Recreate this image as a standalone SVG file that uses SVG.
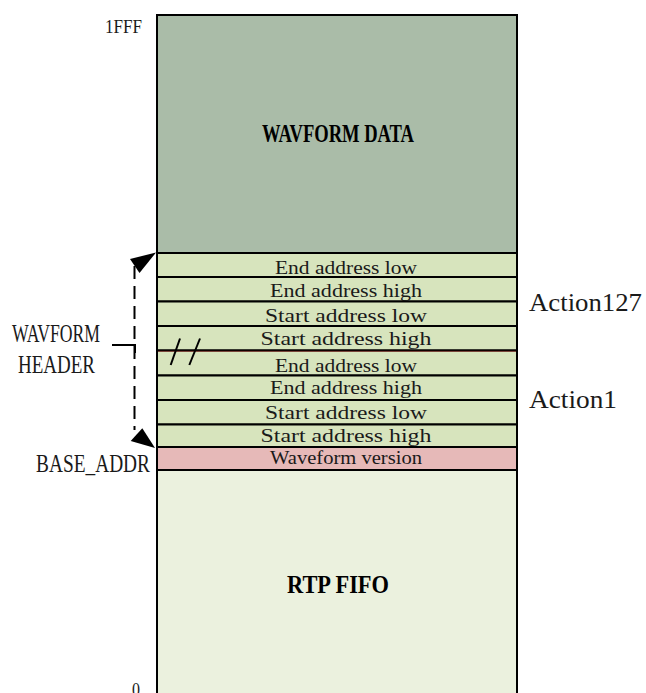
<svg xmlns="http://www.w3.org/2000/svg" width="646" height="693" viewBox="0 0 646 693">
<style>
.box{stroke:#000;stroke-width:2}
.row{fill:#d7e4bd;stroke:#000;stroke-width:2}
.rt{font-family:"Liberation Serif",serif;font-size:19px;fill:#1a1a1a;text-anchor:middle}
.lbl{font-family:"Liberation Serif",serif;font-size:26px;fill:#1a1a1a}
.sm{font-family:"Liberation Serif",serif;font-size:19px;fill:#1a1a1a}
.big{font-family:"Liberation Serif",serif;font-size:26px;font-weight:bold;fill:#000;text-anchor:middle}
.conn{fill:none;stroke:#000;stroke-width:2}
</style>
<rect width="646" height="693" fill="#fff"/>
<g id="wavform-data">
<rect class="box" x="157" y="15" width="360" height="238" fill="#aabca8"/>
<text class="big" x="338" y="141.5" textLength="152" lengthAdjust="spacingAndGlyphs">WAVFORM DATA</text>
</g>
<g id="a127-end-low"><rect class="row" x="157" y="253" width="360" height="24"/><text class="rt" x="346" y="274.3" textLength="142" lengthAdjust="spacingAndGlyphs">End address low</text></g>
<g id="a127-end-high"><rect class="row" x="157" y="277" width="360" height="24.5"/><text class="rt" x="346" y="297.3" textLength="152" lengthAdjust="spacingAndGlyphs">End address high</text></g>
<g id="a127-start-low"><rect class="row" x="157" y="301.5" width="360" height="24.5"/><text class="rt" x="346" y="322.3" textLength="162" lengthAdjust="spacingAndGlyphs">Start address low</text></g>
<g id="a127-start-high"><rect class="row" x="157" y="326" width="360" height="24.5"/><text class="rt" x="346" y="345" textLength="171" lengthAdjust="spacingAndGlyphs">Start address high</text></g>
<g id="a1-end-low"><rect class="row" x="157" y="350.5" width="360" height="25"/><text class="rt" x="346" y="371.7" textLength="142" lengthAdjust="spacingAndGlyphs">End address low</text></g>
<g id="a1-end-high"><rect class="row" x="157" y="375.5" width="360" height="24.5"/><text class="rt" x="346" y="394.3" textLength="152" lengthAdjust="spacingAndGlyphs">End address high</text></g>
<g id="a1-start-low"><rect class="row" x="157" y="400" width="360" height="24.5"/><text class="rt" x="346" y="419" textLength="162" lengthAdjust="spacingAndGlyphs">Start address low</text></g>
<g id="a1-start-high"><rect class="row" x="157" y="424.5" width="360" height="22.5"/><text class="rt" x="346" y="441.7" textLength="171" lengthAdjust="spacingAndGlyphs">Start address high</text></g>
<g id="waveform-version"><rect class="box" x="157" y="447" width="360" height="23" fill="#e6b9b8"/><text class="rt" x="346" y="464.3" textLength="152" lengthAdjust="spacingAndGlyphs">Waveform version</text></g>
<g id="rtp-fifo">
<rect class="box" x="157" y="470" width="360" height="240" fill="#ebf1de"/>
<text class="big" x="338" y="592.7" textLength="102" lengthAdjust="spacingAndGlyphs">RTP FIFO</text>
</g>
<line x1="158" y1="351.3" x2="516" y2="351.3" stroke="#8b1010" stroke-width="0.8" opacity="0.7"/>
<g id="labels">
<text class="sm" x="105" y="33" textLength="37" lengthAdjust="spacingAndGlyphs">1FFF</text>
<text class="sm" x="132" y="696" textLength="8" lengthAdjust="spacingAndGlyphs">0</text>
<text class="lbl" x="12" y="342.3" textLength="88" lengthAdjust="spacingAndGlyphs">WAVFORM</text>
<text class="lbl" x="18" y="373.3" textLength="77" lengthAdjust="spacingAndGlyphs">HEADER</text>
<text class="lbl" x="36" y="471.7" textLength="114" lengthAdjust="spacingAndGlyphs">BASE_ADDR</text>
<text class="lbl" x="529" y="311" textLength="113" lengthAdjust="spacingAndGlyphs">Action127</text>
<text class="lbl" x="529" y="408" textLength="88" lengthAdjust="spacingAndGlyphs">Action1</text>
</g>
<g id="connectors">
<line class="conn" x1="134.5" y1="266" x2="134.5" y2="430" stroke-dasharray="13,7"/>
<polygon points="130,259 139.5,273 156,252.5" fill="#000"/>
<polygon points="130.7,441 142.3,428.3 155,448" fill="#000"/>
<polyline class="conn" points="112,345 135,345 135,353"/>
<line class="conn" x1="180" y1="338.5" x2="170.7" y2="365"/>
<line class="conn" x1="200" y1="338.5" x2="189.3" y2="365"/>
</g>
</svg>
